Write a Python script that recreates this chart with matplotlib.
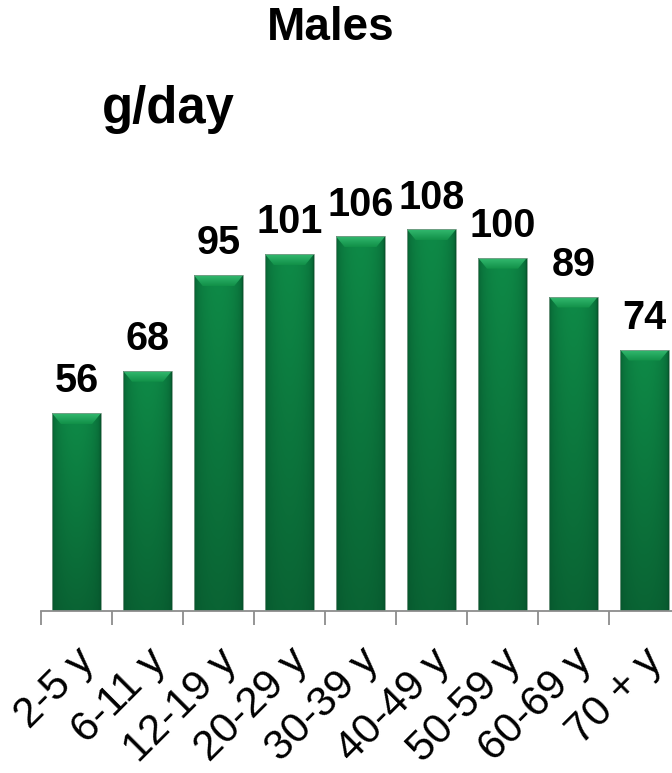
import numpy as np
import matplotlib.pyplot as plt
from matplotlib.patches import Polygon
from matplotlib.colors import to_rgb
from matplotlib.transforms import ScaledTranslation

# Daily intake by age group (males)
groups = ["2-5 y", "6-11 y", "12-19 y", "20-29 y", "30-39 y",
          "40-49 y", "50-59 y", "60-69 y", "70 + y"]
intake = [56, 68, 95, 101, 106, 108, 100, 89, 74]

plt.rcParams['font.family'] = ['Liberation Sans', 'DejaVu Sans']

W, H = 672, 773
fig = plt.figure(figsize=(W / 100, H / 100), dpi=100)
ax = fig.add_axes([41 / W, 162 / H, 639 / W, 424 / H])

YMAX = 120
x = np.arange(len(groups))
bar_w = 0.69
bars = ax.bar(x, intake, width=bar_w, color='none',
              edgecolor='#7f9f8c', linewidth=0.6, zorder=4)

# pixel -> data scale factors for the bevel sizes
px_x = len(groups) / 639.0
px_y = YMAX / 424.0


def rgb(c):
    return np.array(to_rgb(c))


# body shading: brighter toward the top, dark rims at the sides
nx, ny = 64, 64
tx = np.linspace(0, 1, nx)
ty = np.linspace(0, 1, ny)[:, None, None]          # 0 = top, 1 = bottom
prof = np.clip(np.sin(np.pi * tx) ** 0.3, 0, 1)[None, :, None]
base = rgb('#0e8a47') + (rgb('#0a6434') - rgb('#0e8a47')) * ty
rim = rgb('#05502a')
body = rim + (base - rim) * prof

# bevel on the top face
m = 32
tv = np.linspace(0, 1, m)[:, None, None]
bevel = rgb('#33b96f') + (rgb('#119048') - rgb('#33b96f')) * tv
bevel = np.repeat(bevel, 8, axis=1)

for b in bars:
    x0 = b.get_x()
    x1 = x0 + b.get_width()
    h = b.get_height()
    im = ax.imshow(body, extent=(x0, x1, 0, h), aspect='auto',
                   interpolation='bicubic', origin='upper', zorder=2)
    im.set_clip_path(b)
    dx, dy = 9 * px_x, 11 * px_y
    poly = Polygon([(x0, h), (x1, h), (x1 - dx, h - dy), (x0 + dx, h - dy)],
                   closed=True, facecolor='none', edgecolor='none')
    ax.add_patch(poly)
    imb = ax.imshow(bevel, extent=(x0, x1, h - dy, h), aspect='auto',
                    interpolation='bicubic', origin='upper', zorder=3)
    imb.set_clip_path(poly)
    ax.annotate(f"{h:g}", xy=(b.get_x() + b.get_width() / 2, h),
                xytext=(0, 15), textcoords='offset points',
                ha='center', va='baseline', fontsize=28.5, fontweight='bold')

ax.set_xlim(-0.5, len(groups) - 0.5)
ax.set_ylim(0, YMAX)

for s in ('left', 'right', 'top'):
    ax.spines[s].set_visible(False)
ax.spines['bottom'].set_color('#8c8c8c')
ax.spines['bottom'].set_linewidth(1.3)
ax.set_yticks([])

ax.set_xticks(x)
ax.set_xticklabels(groups, rotation=45, ha='right', va='center',
                   rotation_mode='anchor', fontsize=30.5)
ax.tick_params(axis='x', which='major', length=0, pad=32)
shift = ScaledTranslation(12 / 100, 0, fig.dpi_scale_trans)
for lab in ax.get_xticklabels():
    lab.set_transform(lab.get_transform() + shift)
ax.set_xticks(np.arange(-0.5, len(groups)), minor=True)
ax.tick_params(axis='x', which='minor', length=10, width=1.3,
               color='#8c8c8c')

fig.text(330.5 / W, 1 - 28 / H, "Males", ha='center', va='center',
         fontsize=33, fontweight='bold')
fig.text(102 / W, 1 - 123 / H, "g/day", ha='left', va='baseline',
         fontsize=36.5, fontweight='bold')

fig.savefig('out.png', dpi=100)
